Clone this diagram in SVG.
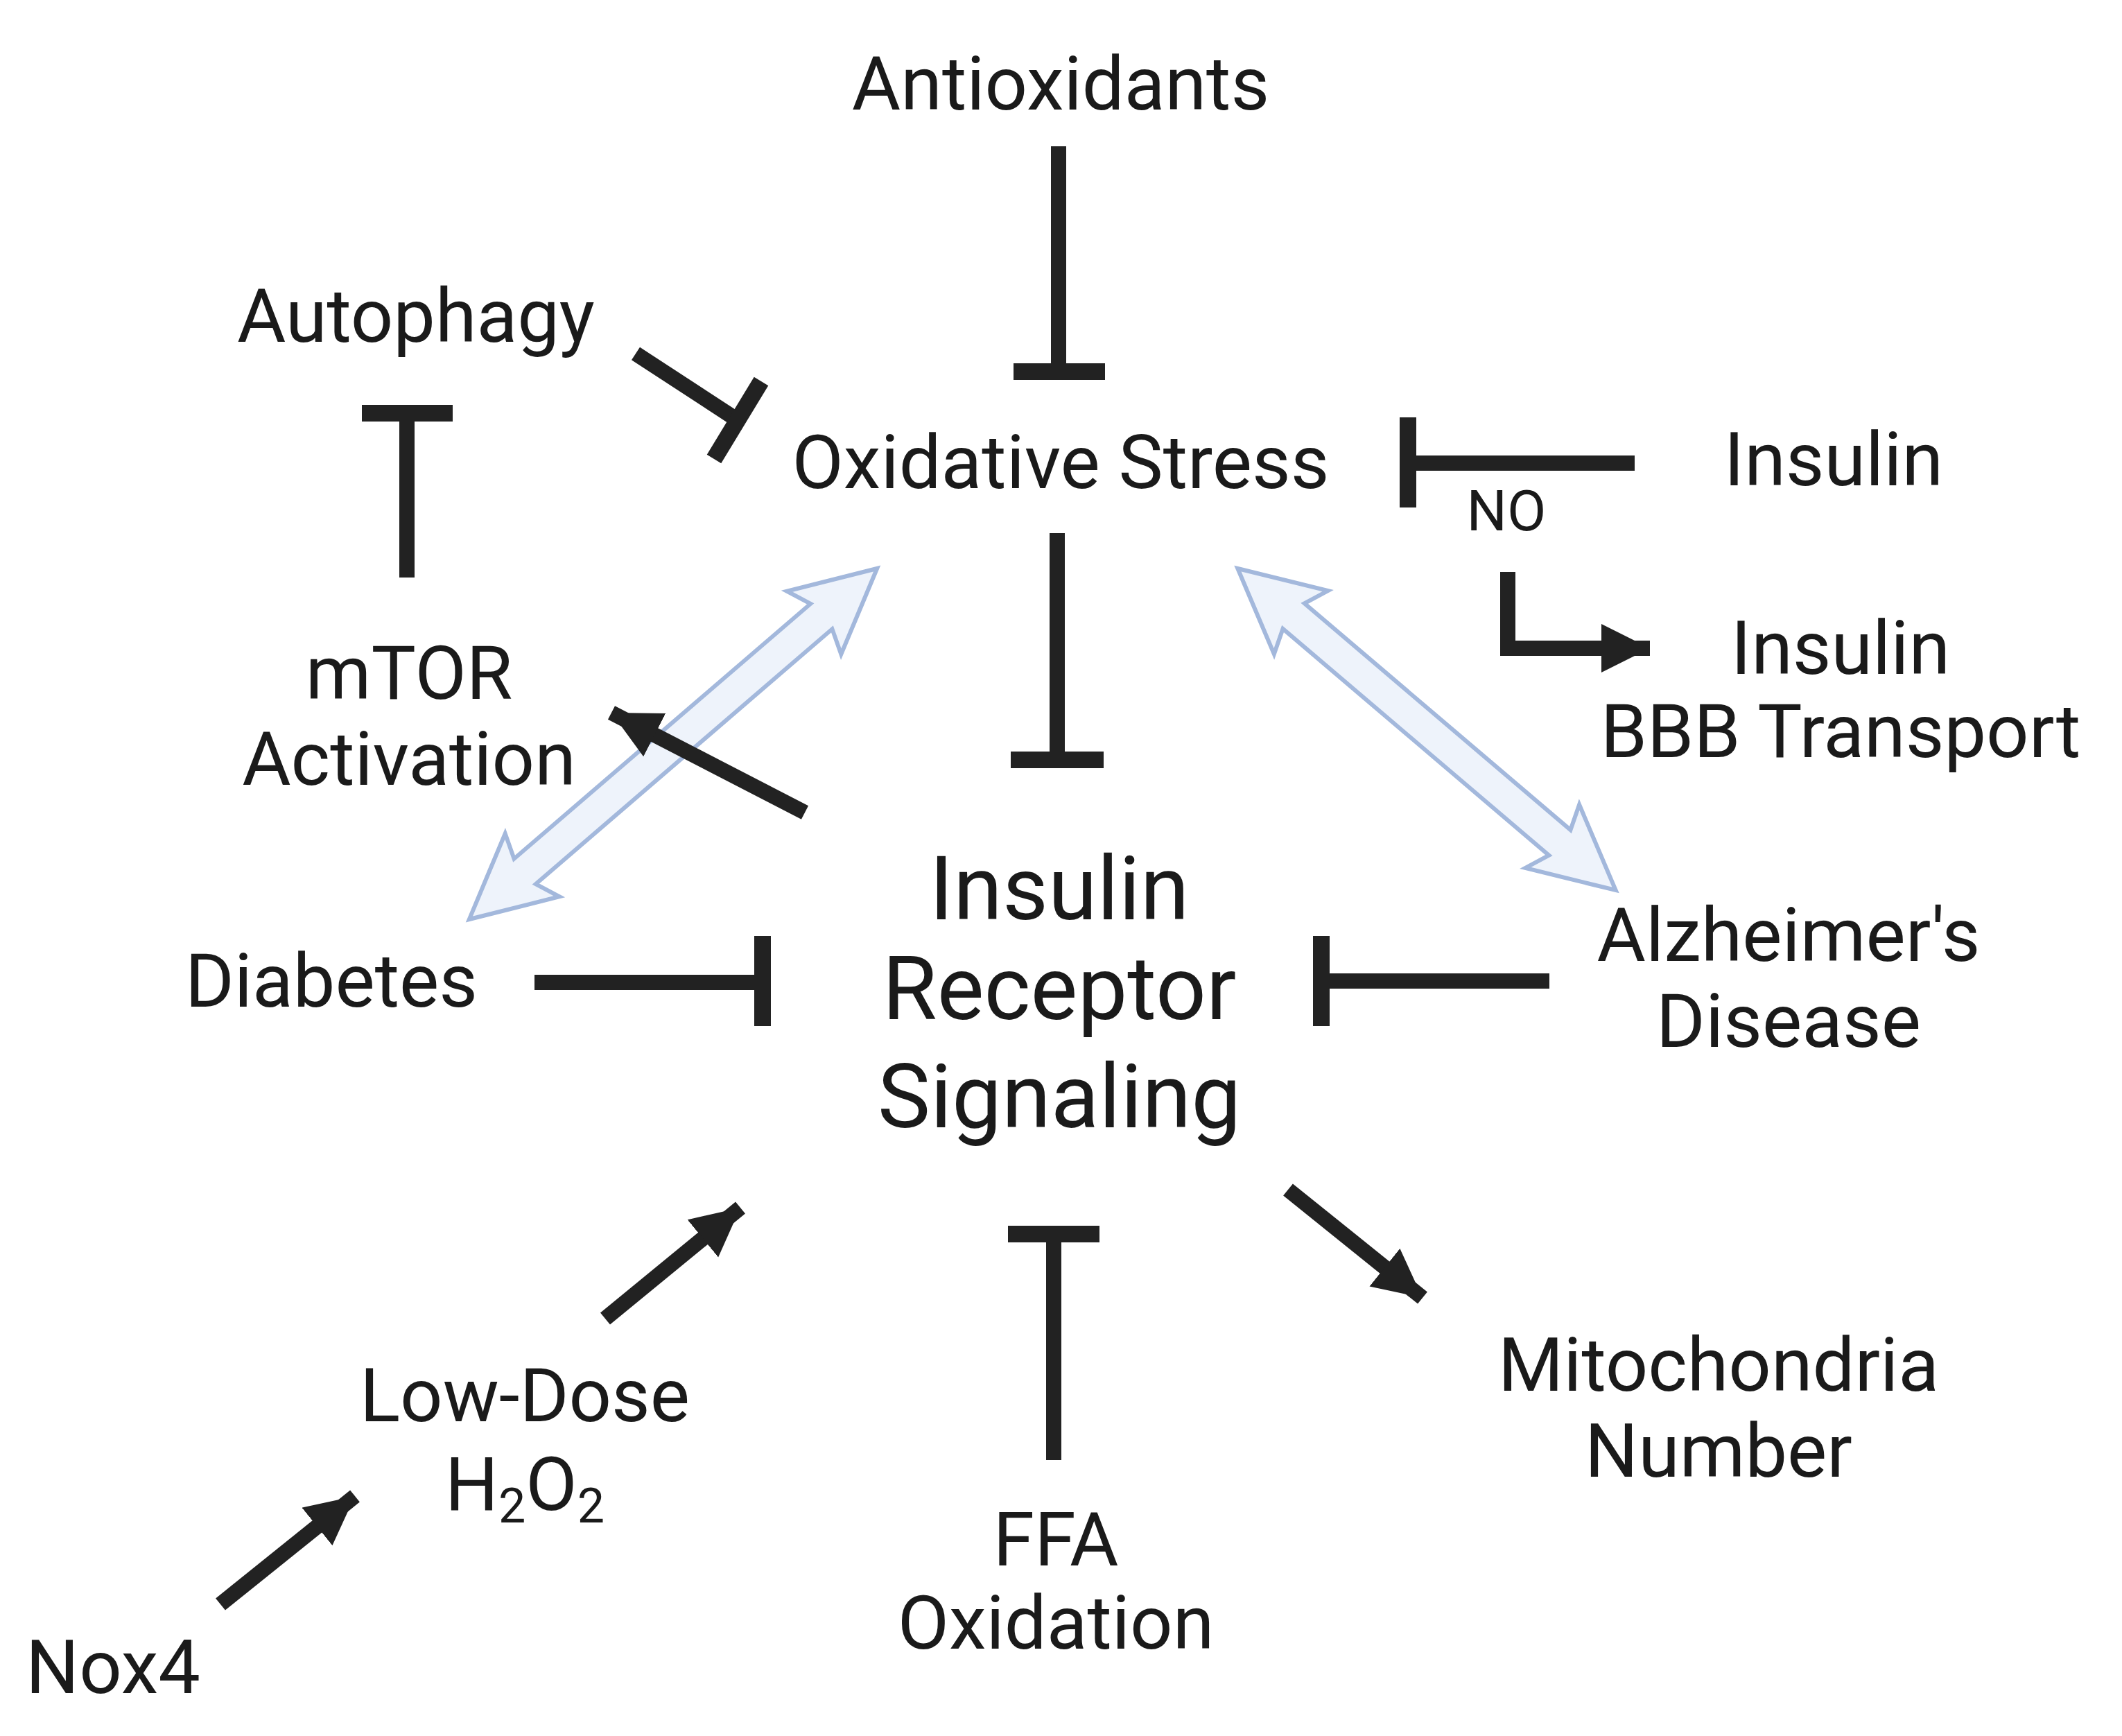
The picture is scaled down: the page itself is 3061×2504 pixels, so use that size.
<svg xmlns="http://www.w3.org/2000/svg" width="3061" height="2504" viewBox="0 0 3061 2504">
<style>
text{font-family:Roboto,"Liberation Sans",sans-serif;fill:#1a1a1a;text-anchor:middle;font-size:108px}
.big{font-size:128px}
.sm{font-size:82px}
.c line{stroke:#222;stroke-width:22;stroke-linecap:butt}
.c .bar{stroke-width:24}
.dbl{fill:#eef3fb;stroke:#a3b8dc;stroke-width:6;stroke-linejoin:miter}
</style>
<defs>
<marker id="ah" markerUnits="userSpaceOnUse" markerWidth="80" markerHeight="80" refX="70" refY="35" orient="auto">
<path d="M0,0 L70,35 L0,70 Z" fill="#222"/>
</marker>
<polygon id="dbl" points="0,0 0,0"/>
</defs>
<rect width="3061" height="2504" fill="#fff"/>
<g id="bi-arrows">
<g transform="translate(2058,1052) rotate(40.4)"><polygon class="dbl" points="-358,0 -238,-60 -252,-24 252,-24 238,-60 358,0 238,60 252,24 -252,24 -238,60"/></g>
<g transform="translate(971,1073) rotate(139.3)"><polygon class="dbl" points="-388,0 -268,-60 -282,-24 282,-24 268,-60 388,0 268,60 282,24 -282,24 -268,60"/></g>
</g>
<g id="connectors" class="c">
<line x1="1527" y1="211" x2="1527" y2="536"/><line class="bar" x1="1462" y1="536" x2="1594" y2="536"/>
<line x1="917" y1="510" x2="1064" y2="606"/><line class="bar" x1="1098" y1="550" x2="1030" y2="662"/>
<line x1="587" y1="833" x2="587" y2="596"/><line class="bar" x1="522" y1="596" x2="653" y2="596"/>
<line x1="2358" y1="668" x2="2031" y2="668"/><line class="bar" x1="2031" y1="602" x2="2031" y2="732"/>
<polyline points="2175,825 2175,935 2380,935" fill="none" stroke="#222" stroke-width="22" marker-end="url(#ah)"/>
<line x1="1525" y1="769" x2="1525" y2="1096"/><line class="bar" x1="1458" y1="1096" x2="1592" y2="1096"/>
<line x1="1161" y1="1172" x2="882" y2="1028" marker-end="url(#ah)"/>
<line x1="771" y1="1417" x2="1100" y2="1417"/><line class="bar" x1="1100" y1="1350" x2="1100" y2="1480"/>
<line x1="2235" y1="1415" x2="1906" y2="1415"/><line class="bar" x1="1906" y1="1350" x2="1906" y2="1480"/>
<line x1="873" y1="1902" x2="1068" y2="1742" marker-end="url(#ah)"/>
<line x1="1858" y1="1716" x2="2052" y2="1872" marker-end="url(#ah)"/>
<line x1="1520" y1="2106" x2="1520" y2="1780"/><line class="bar" x1="1454" y1="1780" x2="1586" y2="1780"/>
<line x1="318" y1="2314" x2="512" y2="2158" marker-end="url(#ah)"/>
</g>
<g id="antioxidants"><text x="1530" y="158">Antioxidants</text></g>
<g id="autophagy"><text x="600" y="493">Autophagy</text></g>
<g id="oxidative-stress"><text x="1530" y="704">Oxidative Stress</text></g>
<g id="insulin"><text x="2645" y="700">Insulin</text></g>
<g id="no-label"><text class="sm" x="2173" y="765">NO</text></g>
<g id="insulin-bbb"><text x="2655" y="972">Insulin</text><text x="2655" y="1092">BBB Transport</text></g>
<g id="mtor"><text x="590" y="1008">mTOR</text><text x="590" y="1132">Activation</text></g>
<g id="irs"><text class="big" x="1528" y="1326">Insulin</text><text class="big" x="1528" y="1470">Receptor</text><text class="big" x="1528" y="1626">Signaling</text></g>
<g id="diabetes"><text x="478" y="1452">Diabetes</text></g>
<g id="alzheimers"><text x="2580" y="1386">Alzheimer's</text><text x="2580" y="1510">Disease</text></g>
<g id="mitochondria"><text x="2479" y="2006">Mitochondria</text><text x="2479" y="2130">Number</text></g>
<g id="h2o2"><text x="757" y="2050">Low-Dose</text><text x="757" y="2178">H<tspan font-size="70" dy="18">2</tspan><tspan dy="-18">O</tspan><tspan font-size="70" dy="18">2</tspan></text></g>
<g id="ffa"><text x="1523" y="2258">FFA</text><text x="1523" y="2378">Oxidation</text></g>
<g id="nox4"><text x="163" y="2442">Nox4</text></g>
</svg>
